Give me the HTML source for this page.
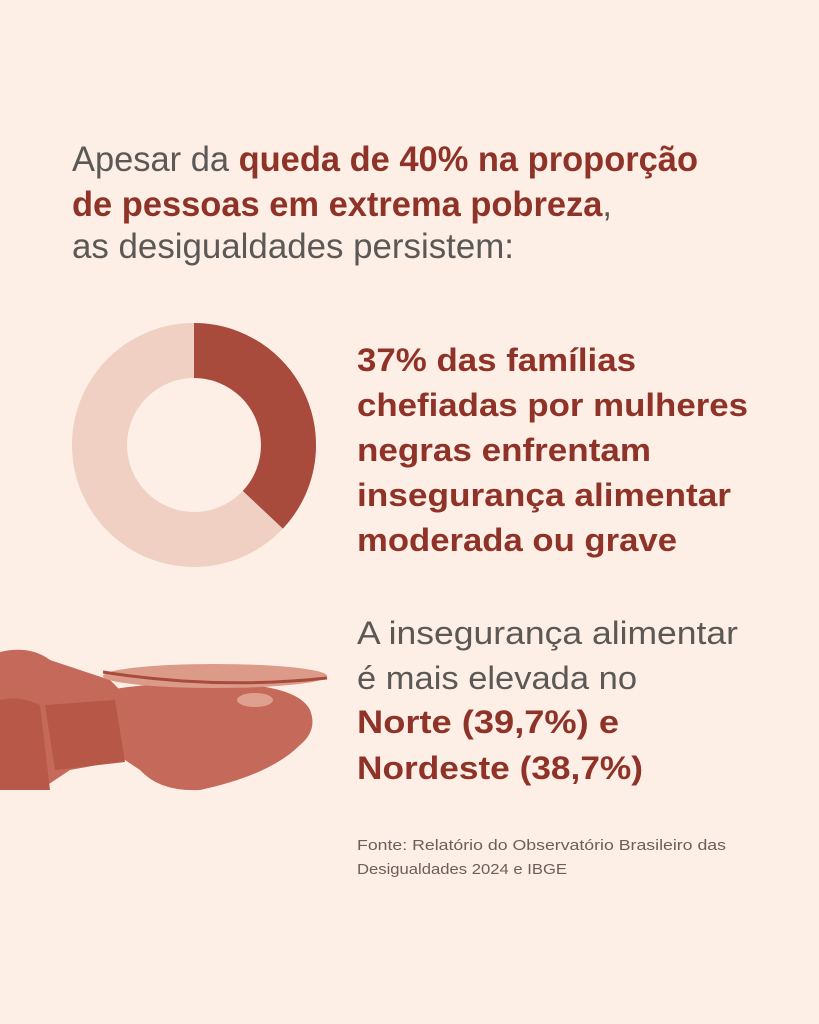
<!DOCTYPE html>
<html><head><meta charset="utf-8"><style>
html,body{margin:0;padding:0}
body{width:819px;height:1024px;background:#fdefe5;position:relative;overflow:hidden;font-family:"Liberation Sans",sans-serif}
.l{position:absolute;white-space:nowrap;line-height:1;transform-origin:0 50%}
.g{color:#5b5856}
.r{color:#8f3329;font-weight:bold}
.h{font-size:35px}
.b{font-size:32px}
.s{font-size:15px;color:#6a5f5a}
</style></head><body>
<div class="l h g" style="left:72px;top:142px"><span>Apesar da <b class="r">queda de 40% na proporção</b></span></div>
<div class="l h g" style="left:72px;top:187px"><span><b class="r">de pessoas em extrema pobreza</b>,</span></div>
<div class="l h g" style="left:72px;top:229px"><span>as desigualdades persistem:</span></div>

<svg style="position:absolute;left:0;top:0" width="819" height="1024">
<circle cx="194" cy="445" r="94.5" fill="none" stroke="#efd0c2" stroke-width="55"/>
<circle cx="194" cy="445" r="94.5" fill="none" stroke="#a84a3c" stroke-width="55" stroke-dasharray="219.7 600" transform="rotate(-90 194 445)"/>
<!-- hand & bowl -->
<g fill="#c56a5b">
<path d="M0 652 Q30 645 50 660 L110 680 L120 690 L125 760 L70 770 L40 790 L0 790 Z"/>
<path d="M110 690 Q160 680 250 685 Q300 690 310 710 Q318 730 300 745 Q270 775 200 790 Q160 792 140 770 L125 760 Z"/>
</g>
<path d="M0 700 Q20 695 40 705 L50 790 L0 790 Z" fill="#b85848"/>
<path d="M45 705 L115 700 L125 762 L55 770 Z" fill="#b65748"/>
<ellipse cx="215" cy="676" rx="112" ry="12" fill="#dc9a88"/>
<path d="M103 672 Q215 690 327 678" stroke="#a84a3c" stroke-width="3" fill="none"/>
<ellipse cx="255" cy="700" rx="18" ry="7" fill="#e0a08f"/>
</svg>

<div class="l b r" style="left:357px;top:344px"><span>37% das famílias</span></div>
<div class="l b r" style="left:357px;top:389px"><span>chefiadas por mulheres</span></div>
<div class="l b r" style="left:357px;top:434px"><span>negras enfrentam</span></div>
<div class="l b r" style="left:357px;top:479px"><span>insegurança alimentar</span></div>
<div class="l b r" style="left:357px;top:524px"><span>moderada ou grave</span></div>

<div class="l b g" style="left:357px;top:617px"><span>A insegurança alimentar</span></div>
<div class="l b g" style="left:357px;top:662px"><span>é mais elevada no</span></div>
<div class="l b r" style="left:357px;top:706px"><span>Norte (39,7%) e</span></div>
<div class="l b r" style="left:357px;top:752px"><span>Nordeste (38,7%)</span></div>

<div class="l s" style="left:357px;top:838px"><span>Fonte: Relatório do Observatório Brasileiro das</span></div>
<div class="l s" style="left:357px;top:862px"><span>Desigualdades 2024 e IBGE</span></div>

<script>
var W=[626,540,442,279,391,294,374,320,381,280,262,286,369,210];
var els=document.querySelectorAll('.l');
for(var i=0;i<els.length;i++){var s=els[i].firstElementChild;var w=s.getBoundingClientRect().width;if(w>0)els[i].style.transform='scaleX('+(W[i]/w)+')';}
</script>
</body></html>
